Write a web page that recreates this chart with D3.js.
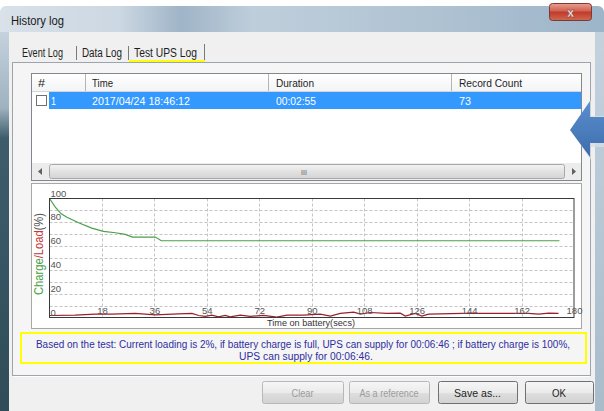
<!DOCTYPE html>
<html><head><meta charset="utf-8">
<script src="https://cdn.jsdelivr.net/npm/d3@7"></script>
<style>html,body{margin:0;padding:0;overflow:hidden;background:#fff}svg{display:block;font-family:"Liberation Sans",Arial,sans-serif}</style>
</head><body>
<svg id="c" width="604" height="411"></svg>
<script>
// ---------- data ----------
const chargeTime  = [0, 2, 4, 6, 10, 14.5, 18.5, 22.6, 26, 28.5, 36.3, 38.4, 175];
const chargeValue = [100, 92.7, 87.1, 84.3, 79.6, 75.1, 72.4, 71.2, 69.8, 67.6, 67.6, 64.5, 64.5];
const loadTime  = [0, 8.8, 15.7, 21.4, 29.4, 36.3, 44.3, 48.9, 51.2, 53.4, 55.7, 58, 60.3, 62, 65.5, 68.9, 73.5, 78, 81.5, 87.2, 92.9, 96.4, 99.8, 104.4, 106.7, 110.1, 115.8, 120.4, 122.1, 125.5, 127.8, 130.1, 141.6, 153, 164.4, 167.9, 171.3, 174.7];
const loadValue = [1.7, 2, 2.8, 2.8, 3.4, 2.2, 3, 3.4, 1.7, 0.9, 2, 0.5, 1.7, 0.5, 2, 1, 1.7, 0.3, 2, 2, 2.8, 1.2, 3.4, 4.5, 2.8, 4.2, 3.4, 3.6, 1.2, 3.4, 1.2, 2.8, 3.4, 3.4, 3.4, 2.8, 3.6, 3.4];
const xTickValues = [18, 36, 54, 72, 90, 108, 126, 144, 162, 180];
const yTickValues = [0, 20, 40, 60, 80, 100];
const yGridValues = [10, 20, 30, 40, 50, 60, 70, 80, 90];
const xGridValues = [18, 36, 54, 72, 90, 108, 126, 144, 162];
const tabNames = ["Event Log", "Data Log", "Test UPS Log"];
const columnNames = ["#", "Time", "Duration", "Record Count"];
const rowValues = ["1", "2017/04/24 18:46:12", "00:02:55", "73"];
const buttonNames = ["Clear", "As a reference", "Save as...", "OK"];
const infoLines = ["Based on the test: Current loading is 2%, if battery charge is full, UPS can supply for 00:06:46 ; if battery charge is 100%,",
                   "UPS can supply for 00:06:46."];
const windowTitle = "History log";
const xAxisTitle = "Time on battery(secs)";

// ---------- drawing ----------
const svg = d3.select("#c");
const defs = svg.append("defs");
function lin(id, x2, y2, stops){
  const g = defs.append("linearGradient").attr("id", id).attr("x1",0).attr("y1",0).attr("x2",x2).attr("y2",y2);
  stops.forEach(s => g.append("stop").attr("offset", s[0]).attr("stop-color", s[1]));
}
lin("titleG", 1, 0, [[0,"#d9e1e9"],[0.2,"#cbd7e2"],[0.3,"#9fb4c7"],[0.42,"#bfcedb"],[0.7,"#b0c3d3"],[1,"#9db5c9"]]);
lin("leftG", 0, 1, [[0,"#c5d2dd"],[0.2,"#9fb2c0"],[0.28,"#3e5d6a"],[1,"#2f4c58"]]);
lin("rightG", 0, 1, [[0,"#c4d2de"],[1,"#a9bccb"]]);
lin("closeG", 0, 1, [[0,"#e8a090"],[0.45,"#d0604f"],[0.5,"#c0392b"],[1,"#cf6a50"]]);
lin("thumbG", 0, 1, [[0,"#f4f4f4"],[0.5,"#e2e2e2"],[1,"#d4d4d4"]]);
lin("btnG", 0, 1, [[0,"#f6f6f6"],[0.5,"#ebebeb"],[0.55,"#dddddd"],[1,"#d2d2d2"]]);
lin("arrowG", 0, 1, [[0,"#5b8fcf"],[1,"#3d6cab"]]);
lin("hdrG", 0, 1, [[0,"#ffffff"],[1,"#f3f4f6"]]);

function squeeze(sel, cx, cy, target){
  // horizontally compress a centred text to the width seen in the screenshot
  const n = sel.node().getComputedTextLength();
  sel.attr("x",0).attr("y",0).attr("transform",`translate(${cx},${cy}) scale(${Math.min(1,target/n)},1)`);
}

// window frame
svg.append("rect").attr("x",0).attr("y",6).attr("width",604).attr("height",405).attr("rx",6).attr("fill","url(#titleG)");
svg.append("rect").attr("x",0).attr("y",32).attr("width",9).attr("height",379).attr("fill","url(#leftG)");
svg.append("rect").attr("x",595).attr("y",32).attr("width",9).attr("height",379).attr("fill","url(#rightG)");
svg.append("line").attr("x1",594).attr("x2",594).attr("y1",32).attr("y2",411).attr("stroke","#6d8294");
svg.append("text").attr("x",11).attr("y",25).attr("font-size",12).attr("fill","#1b1b1b").attr("textLength",53).attr("lengthAdjust","spacingAndGlyphs").text(windowTitle);
// close button
svg.append("rect").attr("x",549.5).attr("y",3.5).attr("width",42).attr("height",17).attr("rx",3).attr("fill","url(#closeG)").attr("stroke","#7a3a36");
svg.append("text").attr("x",570.5).attr("y",16.5).attr("text-anchor","middle").attr("font-size",13).attr("font-weight","bold").attr("fill","#fff").attr("stroke","#6a2a2a").attr("stroke-width",0.4).text("x");

// dialog body
svg.append("rect").attr("x",9).attr("y",32).attr("width",586).attr("height",379).attr("fill","#f0f0f0");
// tab panel
svg.append("rect").attr("x",12.5).attr("y",62.5).attr("width",578).attr("height",313).attr("fill","#f5f5f5").attr("stroke","#9ea4ab");
svg.append("line").attr("x1",13).attr("x2",590).attr("y1",376.5).attr("y2",376.5).attr("stroke","#ffffff");

// tabs
const tabX = [22, 82, 134], tabW = [41, 40, 63];
tabNames.forEach((t,i) => {
  svg.append("text").attr("x",tabX[i]).attr("y",57).attr("font-size",12).attr("fill","#1e1e1e")
    .attr("textLength",tabW[i]).attr("lengthAdjust","spacingAndGlyphs").text(t);
});
svg.append("line").attr("x1",76.5).attr("x2",76.5).attr("y1",46).attr("y2",60).attr("stroke","#7a7a7a");
svg.append("line").attr("x1",128.5).attr("x2",128.5).attr("y1",46).attr("y2",60).attr("stroke","#7a7a7a");
svg.append("line").attr("x1",204.5).attr("x2",204.5).attr("y1",44).attr("y2",62).attr("stroke","#7a7a7a");
svg.append("line").attr("x1",129).attr("x2",205).attr("y1",61).attr("y2",61).attr("stroke","#ffff00").attr("stroke-width",2);

// list view
svg.append("rect").attr("x",31.5).attr("y",73.5).attr("width",550).attr("height",107).attr("fill","#fff").attr("stroke","#828790");
svg.append("rect").attr("x",32).attr("y",74).attr("width",549).attr("height",17).attr("fill","url(#hdrG)");
svg.append("line").attr("x1",32).attr("x2",581).attr("y1",91.5).attr("y2",91.5).attr("stroke","#d5d5d5");
const colX = [85, 268, 451];
colX.forEach(x => svg.append("line").attr("x1",x+0.5).attr("x2",x+0.5).attr("y1",74).attr("y2",91).attr("stroke","#b5b5b5"));
const colTextX = [38, 92, 276, 459], colTextW = [7, 21, 38, 63];
columnNames.forEach((c,i) => svg.append("text").attr("x",colTextX[i]).attr("y",87).attr("font-size",11.5).attr("fill","#1e1e1e")
  .attr("textLength",colTextW[i]).attr("lengthAdjust","spacingAndGlyphs").text(c));
// selected row
svg.append("rect").attr("x",49).attr("y",92).attr("width",532).attr("height",17).attr("fill","#3399ff");
svg.append("rect").attr("x",36.5).attr("y",95.5).attr("width",10).attr("height",10).attr("fill","#fff").attr("stroke","#6f6f6f");
const rowTextW = [5, 98, 40, 12];
rowValues.forEach((v,i) => svg.append("text").attr("x", i===0 ? 51 : colTextX[i]).attr("y",105).attr("font-size",11.5).attr("fill","#ffffff")
  .attr("textLength",rowTextW[i]).attr("lengthAdjust","spacingAndGlyphs").text(v));
// scrollbar
svg.append("rect").attr("x",32).attr("y",163).attr("width",549).attr("height",17).attr("fill","#ececec");
svg.append("rect").attr("x",49.5).attr("y",164.5).attr("width",515).attr("height",14).attr("rx",2).attr("fill","url(#thumbG)").attr("stroke","#a8a8a8");
svg.append("text").attr("x",304).attr("y",175).attr("text-anchor","middle").attr("font-size",7).attr("fill","#606060").text("III");
svg.append("path").attr("d","M38,171.5 L42,168 L42,175 Z").attr("fill","#606060");
svg.append("path").attr("d","M576,171.5 L572,168 L572,175 Z").attr("fill","#606060");

// blue arrow callout
svg.append("path").attr("d","M571,131 L591,100 L591,116 L604,116 L604,147 L591,147 L591,160 Z").attr("fill","#d7dde3").attr("opacity",0.8);
svg.append("path").attr("d","M570,130 L590,101 L590,117 L604,117 L604,143 L590,143 L590,157 Z").attr("fill","url(#arrowG)");

// chart panel
svg.append("rect").attr("x",31.5).attr("y",183.5).attr("width",550).attr("height",145).attr("fill","#fff").attr("stroke","#a7a7a7");

const x = d3.scaleLinear().domain([0,180]).range([49.5,574]);
const y = d3.scaleLinear().domain([0,100]).range([317.5,198.5]);
const plot = svg.append("g");
plot.selectAll("line.hg").data(yGridValues).join("line").attr("class","hg")
  .attr("x1",x(0)).attr("x2",x(180)).attr("y1",d=>Math.round(y(d))+0.5).attr("y2",d=>Math.round(y(d))+0.5)
  .attr("stroke","#c4c4c4").attr("stroke-dasharray","3,2");
plot.selectAll("line.vg").data(xGridValues).join("line").attr("class","vg")
  .attr("x1",d=>Math.round(x(d))+0.5).attr("x2",d=>Math.round(x(d))+0.5).attr("y1",y(100)).attr("y2",y(0))
  .attr("stroke","#c4c4c4").attr("stroke-dasharray","3,2");

const lineGen = d3.line().x(d=>x(d[0])).y(d=>y(d[1]));
plot.append("path").datum(chargeTime.map((t,i)=>[t,chargeValue[i]])).attr("d",lineGen)
  .attr("fill","none").attr("stroke","#4aa04a").attr("stroke-width",1.2);
plot.append("path").datum(loadTime.map((t,i)=>[t,loadValue[i]])).attr("d",lineGen)
  .attr("fill","none").attr("stroke","#9a1f2b").attr("stroke-width",1.2);

plot.append("rect").attr("x",x(0)).attr("y",y(100)).attr("width",x(180)-x(0)).attr("height",y(0)-y(100))
  .attr("fill","none").attr("stroke","#3a3a3a");

// axes (labels drawn inside plot)
const yAxis = svg.append("g").attr("transform",`translate(${x(0)},0)`)
  .call(d3.axisRight(y).tickValues(yTickValues).tickSize(0).tickFormat(d3.format("d")));
yAxis.select(".domain").remove();
yAxis.selectAll("text").attr("x",1).attr("dy","-0.25em").attr("font-size",9.5).attr("fill","#555").attr("font-family",null);
const xAxis = svg.append("g").attr("transform",`translate(0,${y(0)})`)
  .call(d3.axisTop(x).tickValues(xTickValues).tickSize(0).tickPadding(4).tickFormat(d3.format("d")));
xAxis.select(".domain").remove();
xAxis.selectAll("text").attr("font-size",9.5).attr("fill","#555").attr("font-family",null);

svg.append("text").attr("x",311).attr("y",326).attr("text-anchor","middle").attr("font-size",9).attr("fill","#333")
  .attr("textLength",88).attr("lengthAdjust","spacingAndGlyphs").text(xAxisTitle);
const yl = svg.append("text").attr("transform","translate(43,254) rotate(-90)").attr("text-anchor","middle").attr("font-size",12)
  .attr("textLength",82).attr("lengthAdjust","spacingAndGlyphs");
yl.append("tspan").attr("fill","#44a044").text("Charge");
yl.append("tspan").attr("fill","#c83535").text("/Load");
yl.append("tspan").attr("fill","#555").text("(%)");

// info box
svg.append("rect").attr("x",21).attr("y",333).attr("width",565).attr("height",30).attr("fill","none").attr("stroke","#ffff00").attr("stroke-width",2);
const info1 = svg.append("text").attr("text-anchor","middle").attr("font-size",11.5).attr("fill","#2e2ea0").text(infoLines[0]);
squeeze(info1, 303, 348, 535);
const info2 = svg.append("text").attr("text-anchor","middle").attr("font-size",11.5).attr("fill","#2e2ea0").text(infoLines[1]);
squeeze(info2, 306, 359.5, 134);

// buttons
const btnX = [262, 349, 438, 525], btnW = [81, 80, 79, 68], btnTW = [22, 59, 47, 14];
buttonNames.forEach((b,i) => {
  const dis = i < 2;
  svg.append("rect").attr("x",btnX[i]+0.5).attr("y",381.5).attr("width",btnW[i]).attr("height",22).attr("rx",2)
    .attr("fill","url(#btnG)").attr("stroke", dis ? "#b8b8b8" : "#707070");
  svg.append("text").attr("x",btnX[i]+btnW[i]/2).attr("y",397).attr("text-anchor","middle").attr("font-size",11.5)
    .attr("fill", dis ? "#9c9c9c" : "#1e1e1e").attr("textLength",btnTW[i]).attr("lengthAdjust","spacingAndGlyphs").text(b);
});
</script>
</body></html>
